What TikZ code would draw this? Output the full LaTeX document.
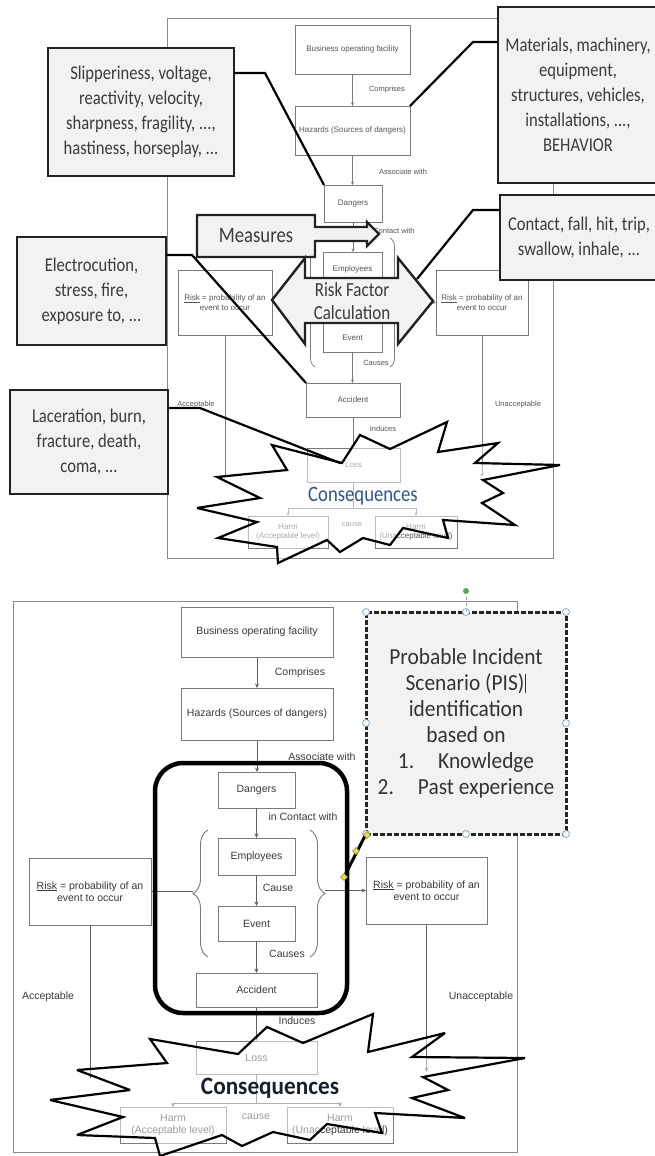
\documentclass[tikz,border=0pt]{standalone}
\usepackage{fontspec}
\setmainfont{Liberation Sans}
\newfontfamily\calib[FakeStretch=0.85]{Carlito}
\newfontfamily\calibw[FakeStretch=0.93]{Carlito}
\usetikzlibrary{arrows.meta,decorations.pathreplacing}
\definecolor{framec}{HTML}{8A8A8A}
\definecolor{boxc}{HTML}{7A7A7A}
\definecolor{txtA}{HTML}{555555}
\definecolor{txtB}{HTML}{3A3A3A}
\definecolor{callfill}{HTML}{F2F2F2}
\definecolor{calldraw}{HTML}{222222}
\definecolor{calltext}{HTML}{3B3B3B}
\definecolor{consA}{HTML}{2F5496}
\definecolor{consB}{HTML}{1A1F2E}
\definecolor{handle}{HTML}{8DA9C4}
\definecolor{yel}{HTML}{F2E21B}
\definecolor{grn}{HTML}{4CAF50}
\newcommand\rbox[6][]{\node[#1, minimum width={(#4)-(#2)}, minimum height={(#5)-(#3)}] (#6) at ({((#2)+(#4))/2},{((#3)+(#5))/2})}
\begin{document}
\begin{tikzpicture}[x=1pt,y=-1pt,
 dboxA/.style={draw=boxc, line width=0.7pt, fill=white, inner sep=0pt, outer sep=0pt, align=center, text=txtA, font=\fontsize{8}{9.6}\selectfont},
 dboxB/.style={draw=boxc, line width=0.9pt, fill=white, inner sep=0pt, outer sep=0pt, align=center, text=txtB, font=\fontsize{10.5}{12.5}\selectfont},
 lblA/.style={inner sep=0pt, text=txtA, font=\fontsize{7.5}{9}\selectfont},
 lblB/.style={inner sep=0pt, text=txtB, font=\fontsize{10.5}{12.5}\selectfont},
 flowA/.style={draw=boxc, line width=0.7pt, -{Stealth[length=3.5pt,width=3pt]}},
 flowB/.style={draw=boxc!80!black, line width=0.9pt, -{Stealth[length=4.5pt,width=4pt]}},
 plainA/.style={draw=boxc, line width=0.7pt},
 plainB/.style={draw=boxc!80!black, line width=0.9pt},
 frm/.style={draw=framec, line width=1pt},
 bracA/.style={draw=boxc, line width=0.7pt, decorate, decoration={brace, amplitude=9pt}},
 bracB/.style={draw=boxc, line width=0.9pt, decorate, decoration={brace, amplitude=15pt}},
 callout/.style={draw=calldraw, line width=2.4pt, fill=callfill, inner sep=0pt, outer sep=0pt, align=center, text=calltext, font=\calib\fontsize{19.5}{25}\selectfont},
 conn/.style={draw=black, line width=2.2pt, line join=miter},
 bigshape/.style={draw=calldraw, line width=2.4pt, fill=callfill, line join=miter},
 burst/.style={draw=black, line width=2.2pt, fill=white, fill opacity=0.5, line join=miter, miter limit=4},
 hnd/.style={draw=handle, fill=white, line width=0.8pt},
 pisbox/.style={draw=black!85, line width=3pt, dash pattern=on 5pt off 2pt, fill=callfill, inner sep=0pt, outer sep=0pt, align=center, text=black!80, font=\calibw\fontsize{23}{26}\selectfont},
 grpbox/.style={draw=black, line width=4.5pt, rounded corners=28pt, inner sep=0pt, outer sep=0pt},
]
\useasboundingbox (0,0) rectangle (654,1156);
\fill[white] (0,0) rectangle (654,1156);

% ================= TOP PANEL =================
\draw[frm] (167,19) rectangle (553,558);
\rbox[dboxA]{295}{25}{410}{74}{b1} {Business operating facility};
\rbox[dboxA]{295}{106}{410}{155}{h1} {Hazards (Sources of dangers)};
\rbox[dboxA]{324}{185}{382}{222}{d1} {Dangers};
\rbox[dboxA]{323}{252}{382}{287}{e1} {Employees};
\rbox[dboxA]{323}{323}{382}{352}{ev1} {Event};
\rbox[dboxA]{306}{383}{400}{417}{ac1} {Accident};
\rbox[dboxA]{307}{448}{400}{482}{l1} {Loss};
\rbox[dboxA]{248}{516}{328}{548}{hl1} {Harm\\(Acceptable level)};
\rbox[dboxA]{375}{516}{457}{548}{hr1} {Harm\\(Unacceptable level)};
\rbox[dboxA]{178}{270}{272}{335}{r1} {\underline{Risk} = probability of an\\event to occur};
\rbox[dboxA]{436}{270}{528}{335}{r2} {\underline{Risk} = probability of an\\event to occur};

\draw[flowA] (b1.south) -- (b1.south |- h1.north);
\draw[flowA] (h1.south) -- (h1.south |- d1.north);
\draw[flowA] (d1.south) -- (d1.south |- e1.north);
\draw[flowA] (e1.south) -- (e1.south |- ev1.north);
\draw[flowA] (ev1.south) -- (ev1.south |- ac1.north);
\draw[flowA] (ac1.south) -- (ac1.south |- l1.north);
\coordinate (br1) at (353.5,508);
\draw[plainA] (l1.south) -- (br1);
\draw[flowA] (br1) -| (hl1.north);
\draw[flowA] (br1) -| (hr1.north);

\draw[bracA] (315,367) -- (315,238);
\draw[bracA] (390,238) -- (390,367);
\coordinate (bt1) at (306,302.5);
\coordinate (bt2) at (399,302.5);
\draw[flowA] (bt1) -- (r1.east);
\draw[flowA] (bt2) -- (r2.west);
\coordinate (va1) at (225,475);
\draw[plainA] (r1.south) -- (va1);
\coordinate (vb1) at (482,477);
\draw[flowA] (r2.south) -- (vb1);

\node[lblA] (t1) at (387,90) {Comprises};
\node[lblA] (t2) at (403,172) {Associate with};
\node[lblA] (t3) at (390,231) {in Contact with};
\node[lblA] (t4) at (376,363) {Causes};
\node[lblA] (t5) at (383,429) {Induces};
\node[lblA] (t6) at (352,525) {cause};
\node[lblA] (t7) at (196,405) {Acceptable};
\node[lblA] (t8) at (518,405) {Unacceptable};

\draw[burst] (447,422) -- (438,452) -- (498,443) -- (475,463) -- (560,465) -- (483,480) -- (503,493) -- (482,503) -- (515,525) -- (443,520) -- (448,538) -- (403,528) -- (390,545) -- (363,538) -- (340,552) -- (327,540) -- (278,563) -- (277,547) -- (218,538) -- (257,522) -- (197,508) -- (260,498) -- (217,477) -- (287,470) -- (272,445) -- (342,463) -- (360,435) -- (390,449) -- cycle;
\node[font=\calib\fontsize{22}{24}\selectfont, text=consA, inner sep=0pt] (cq1) at (363,496) {Consequences};

% callouts
\rbox[callout]{48}{48}{234}{176}{c1} {Slipperiness, voltage,\\reactivity, velocity,\\sharpness, fragility, ...,\\hastiness, horseplay, ...};
\rbox[callout]{498}{7}{658}{183}{c2} {Materials, machinery,\\equipment,\\structures, vehicles,\\installations, ...,\\BEHAVIOR};
\rbox[callout]{500}{195}{658}{280}{c3} {Contact, fall, hit, trip,\\swallow, inhale, ...};
\rbox[callout]{17}{237}{166}{345}{c4} {Electrocution,\\stress, fire,\\exposure to, ...};
\rbox[callout]{10}{390}{168}{494}{c5} {Laceration, burn,\\fracture, death,\\coma, ...};

\draw[bigshape] (197,215) -- (315,215) -- (315,227) -- (367,227) -- (367,222) -- (379,234) -- (367,246) -- (367,241) -- (315,241) -- (315,257) -- (197,257) -- cycle;
\node[font=\calib\fontsize{22}{24}\selectfont, text=calltext, inner sep=0pt] (ms) at (256,236) {Measures};

\draw[bigshape] (272,300) -- (305,258) -- (305,278) -- (398,278) -- (398,258) -- (433,301) -- (398,344) -- (398,323) -- (305,323) -- (305,344) -- cycle;
\node[font=\calib\fontsize{20}{23}\selectfont, text=calltext, align=center, inner sep=0pt] (rf) at (352,301) {Risk Factor\\Calculation};

\coordinate (k1) at (265,73);
\draw[conn] (c1.east |- k1) -- (k1) -- (d1.north west);
\coordinate (k2) at (473,42);
\draw[conn] (c2.west |- k2) -- (k2) -- (h1.north east);
\coordinate (k3) at (473,210);
\coordinate (k3e) at (417,279);
\draw[conn] (c3.west |- k3) -- (k3) -- (k3e);
\coordinate (k4) at (192,255);
\draw[conn] (c4.east |- k4) -- (k4) -- (ac1.north west);
\coordinate (k5) at (200,408);
\coordinate (k5e) at (340,463);
\draw[conn] (c5.east |- k5) -- (k5) -- (k5e);

% ================= BOTTOM PANEL =================
\draw[frm] (13,601) rectangle (517,1152);
\rbox[dboxB]{181}{607}{333}{657}{b2} {Business operating facility};
\rbox[dboxB]{181}{688}{333}{740}{h2} {Hazards (Sources of dangers)};
\rbox[dboxB]{218}{772}{295}{808}{d2} {Dangers};
\rbox[dboxB]{218}{838}{295}{875}{e2} {Employees};
\rbox[dboxB]{218}{906}{295}{941}{ev2} {Event};
\rbox[dboxB]{196}{973}{317}{1007}{ac2} {Accident};
\rbox[dboxB]{196}{1041}{317}{1074}{l2} {Loss};
\rbox[dboxB]{120}{1107}{226}{1143}{hl2} {Harm\\(Acceptable level)};
\rbox[dboxB]{287}{1107}{393}{1143}{hr2} {Harm\\(Unacceptable level)};
\rbox[dboxB]{29}{858}{151}{925}{r3} {\underline{Risk} = probability of an\\event to occur};
\rbox[dboxB]{366}{857}{487}{924}{r4} {\underline{Risk} = probability of an\\event to occur};

\draw[flowB] (b2.south) -- (b2.south |- h2.north);
\draw[flowB] (h2.south) -- (h2.south |- d2.north);
\draw[flowB] (d2.south) -- (d2.south |- e2.north);
\draw[flowB] (e2.south) -- (e2.south |- ev2.north);
\draw[flowB] (ev2.south) -- (ev2.south |- ac2.north);
\draw[flowB] (ac2.south) -- (ac2.south |- l2.north);
\coordinate (br2) at (256.5,1103);
\draw[plainB] (l2.south) -- (br2);
\draw[flowB] (br2) -| (hl2.north);
\draw[flowB] (br2) -| (hr2.north);

\draw[bracB] (208,957) -- (208,830);
\draw[bracB] (310,830) -- (310,957);
\coordinate (bt3) at (193,891.5);
\coordinate (bt4) at (325,890.5);
\draw[flowB] (bt3) -- (r3.east);
\draw[flowB] (bt4) -- (r4.west);
\coordinate (va3) at (90,1078);
\draw[plainB] (r3.south) -- (va3);
\coordinate (vb4) at (426.5,1072);
\draw[flowB] (r4.south) -- (vb4);

\node[lblB] (u1) at (300,673) {Comprises};
\node[lblB] (u2) at (322,757) {Associate with};
\node[lblB] (u3) at (303,817) {in Contact with};
\node[lblB] (u4) at (278,888) {Cause};
\node[lblB] (u5) at (287,954) {Causes};
\node[lblB] (u6) at (297,1021) {Induces};
\node[lblB] (u7) at (256,1117) {cause};
\node[lblB] (u8) at (48,997) {Acceptable};
\node[lblB] (u9) at (481,997) {Unacceptable};

\rbox[grpbox]{155}{763}{347}{1013}{grp} {};

\rbox[pisbox]{366}{612}{566}{834}{pis} {Probable Incident\\Scenario (PIS)\hspace{1pt}\rule[-3pt]{1pt}{19pt}\\identification\\based on\\1.\hspace{24pt}Knowledge\\2.\hspace{24pt}Past experience};
\foreach \p in {(366,612),(466,612),(566,612),(366,723),(566,723),(366,834),(466,834),(566,834)} \draw[hnd] \p circle (3.5);
\coordinate (rot) at (466,591);
\draw[draw=handle, dashed, line width=0.6pt] (rot) -- (pis.north);
\fill[grn] (rot) circle (3);

\coordinate (yc) at (344,877);
\draw[line width=3pt, black] (pis.south west) -- (yc);
\foreach \p in {(367,835),(356,851),(344,877)} \filldraw[fill=yel, draw=black!50, line width=0.4pt] \p ++(-3.5,0) -- ++(3.5,-3.5) -- ++(3.5,3.5) -- ++(-3.5,3.5) -- cycle;

\draw[burst] (373,1014) -- (368,1052) -- (445,1033) -- (412,1057) -- (525,1058) -- (423,1077) -- (448,1090) -- (412,1098) -- (465,1118) -- (375,1113) -- (382,1133) -- (327,1124) -- (310,1140) -- (273,1132) -- (242,1146) -- (222,1135) -- (160,1156) -- (155,1138) -- (77,1135) -- (123,1117) -- (50,1100) -- (130,1090) -- (77,1070) -- (167,1063) -- (150,1039) -- (238,1054) -- (267,1027) -- (303,1043) -- cycle;
\node[font=\calibw\bfseries\fontsize{25}{27}\selectfont, text=consB, inner sep=0pt] (cq2) at (270,1088) {Consequences};
\end{tikzpicture}
\end{document}
